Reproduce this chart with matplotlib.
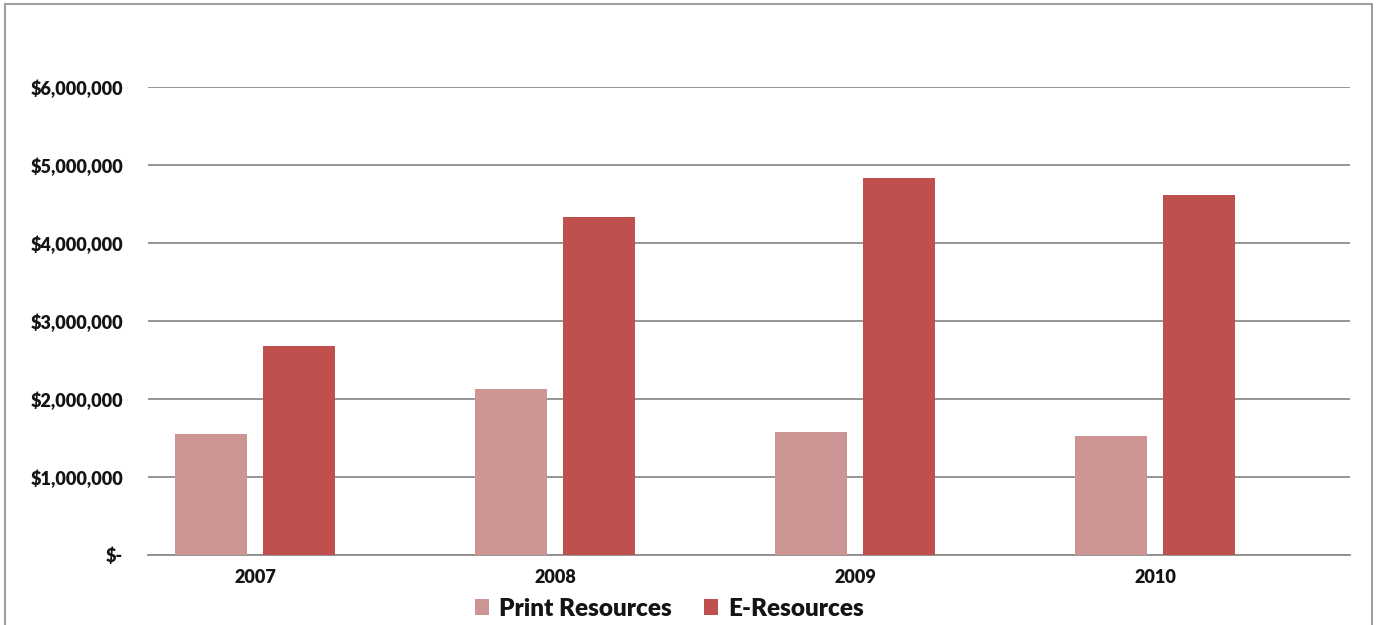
import matplotlib
matplotlib.use("Agg")
import matplotlib.pyplot as plt
from matplotlib.patches import Rectangle
from matplotlib.ticker import FuncFormatter
import numpy as np

years = ["2007", "2008", "2009", "2010"]
print_resources = [1550000, 2130000, 1580000, 1530000]
e_resources = [2680000, 4330000, 4830000, 4620000]
series_names = ["Print Resources", "E-Resources"]
yticks = [0, 1000000, 2000000, 3000000, 4000000, 5000000, 6000000]

plt.rcParams['font.family'] = ['Lato', 'DejaVu Sans']

fig = plt.figure(figsize=(13.77, 6.25), dpi=100)
fig.patch.set_facecolor("white")
# outer frame
fig.patches.append(Rectangle((5/1377, -0.01), 1367/1377, 1 - 4/625 + 0.01,
                             transform=fig.transFigure, fill=False,
                             edgecolor="#a0a0a0", linewidth=1.5))

ax = fig.add_axes([148/1377, 1 - 555/625, (1350-148)/1377, (555-87)/625])
x = np.arange(len(years))
w = 0.24
ax.bar(x - 0.147, print_resources, width=w, color="#CC9492", label=series_names[0], zorder=3)
ax.bar(x + 0.145, e_resources, width=w, color="#C0504D", label=series_names[1], zorder=3)

ax.set_xlim(-0.357, 3.65)
ax.set_ylim(0, 6000000)
ax.set_yticks(yticks)
ax.yaxis.set_major_formatter(FuncFormatter(lambda v, p: "$-" if v == 0 else f"${v:,.0f}"))
ax.set_xticks(x)
ax.set_xticklabels(years)
ax.grid(axis="y", color="#8c8c8c", linewidth=1.3, zorder=0)
for s in ["top", "right", "left"]:
    ax.spines[s].set_visible(False)
ax.spines["bottom"].set_color("#8c8c8c")
ax.spines["bottom"].set_linewidth(1.3)
ax.tick_params(axis="both", length=0, labelsize=13, colors="#141414")
ax.tick_params(axis="y", pad=18)
ax.tick_params(axis="x", pad=10)
for lbl in ax.get_xticklabels() + ax.get_yticklabels():
    lbl.set_fontweight("heavy")

leg = fig.legend(loc="center", bbox_to_anchor=(0.486, 0.026), ncol=2, frameon=False,
                 prop={"weight": "heavy", "size": 17.5}, handlelength=0.6, handleheight=0.6,
                 handletextpad=0.4, columnspacing=1.3)
for t in leg.get_texts():
    t.set_color("#141414")

fig.savefig("out.png", dpi=100)
